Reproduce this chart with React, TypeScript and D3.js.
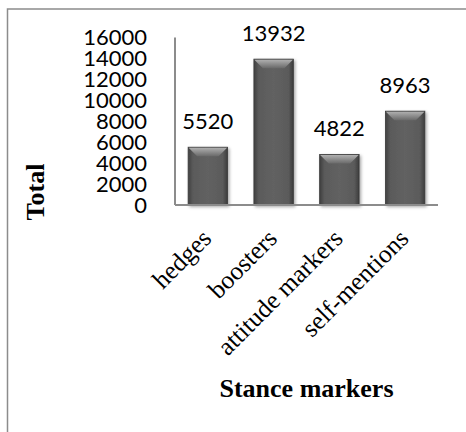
import React from "react";
import * as d3 from "d3";

const categories = ["hedges", "boosters", "attitude markers", "self-mentions"];
const totals = [5520, 13932, 4822, 8963];
const yTicks = [0, 2000, 4000, 6000, 8000, 10000, 12000, 14000, 16000];
const yTitle = "Total";
const xTitle = "Stance markers";

const W = 466;
const H = 432;
const plot = { left: 175, right: 438, top: 37.5, bottom: 205 };

export default function App() {
  const x = d3
    .scaleBand<string>()
    .domain(categories)
    .range([plot.left, plot.right])
    .paddingInner(0.4)
    .paddingOuter(0.2);
  const y = d3.scaleLinear().domain([0, 16000]).range([plot.bottom, plot.top]);
  const bw = x.bandwidth();
  const bev = 9;
  const numFont = "Lato, 'Open Sans', sans-serif";
  const serif = "'Liberation Serif', 'Times New Roman', serif";

  return (
    <svg
      width={W}
      height={H}
      style={{ position: "absolute", left: 0, top: 0, background: "#fff" }}
    >
      <defs>
        <linearGradient id="barBody" x1="0" x2="1" y1="0" y2="0">
          <stop offset="0" stopColor="#404040" />
          <stop offset="0.12" stopColor="#5a5a5a" />
          <stop offset="0.5" stopColor="#626262" />
          <stop offset="0.88" stopColor="#5a5a5a" />
          <stop offset="1" stopColor="#3c3c3c" />
        </linearGradient>
        <linearGradient id="barTop" x1="0" x2="0" y1="0" y2="1">
          <stop offset="0" stopColor="#b0b0b0" />
          <stop offset="1" stopColor="#6a6a6a" />
        </linearGradient>
        <filter id="shadow" x="-20%" y="-20%" width="140%" height="140%">
          <feDropShadow dx="1.5" dy="1.5" stdDeviation="1.5" floodColor="#000" floodOpacity="0.35" />
        </filter>
      </defs>

      {/* outer frame (extends beyond view) */}
      <rect x={7.5} y={9} width={600} height={600} fill="none" stroke="#8c8c8c" strokeWidth={1.5} />

      {/* bars */}
      {categories.map((c, i) => {
        const x0 = x(c)!;
        const yt = y(totals[i]);
        const h = plot.bottom - yt;
        return (
          <g key={c}>
            <rect x={x0} y={yt} width={bw} height={h} fill="url(#barBody)" stroke="#3a3a3a" strokeWidth={0.8} filter="url(#shadow)" />
            <polygon
              points={`${x0 + 0.5},${yt + 0.5} ${x0 + bw - 0.5},${yt + 0.5} ${x0 + bw - bev},${yt + bev} ${x0 + bev},${yt + bev}`}
              fill="url(#barTop)"
            />
            <text
              x={x0 + bw / 2}
              y={yt - 18.5}
              textAnchor="middle"
              fontFamily={numFont}
              fontSize={22}
              fill="#000"
            >
              {totals[i]}
            </text>
          </g>
        );
      })}

      {/* axes */}
      <line x1={plot.left} x2={plot.left} y1={plot.top} y2={plot.bottom} stroke="#8c8c8c" strokeWidth={2} />
      <line x1={plot.left} x2={plot.right} y1={plot.bottom} y2={plot.bottom} stroke="#8c8c8c" strokeWidth={2} />

      {/* y tick labels */}
      {yTicks.map((t) => (
        <text
          key={t}
          x={147}
          y={y(t)}
          dy="0.36em"
          textAnchor="end"
          fontFamily={numFont}
          fontSize={22}
          fill="#000"
        >
          {t}
        </text>
      ))}

      {/* x labels */}
      {categories.map((c) => {
        const cx = x(c)! + bw / 2 + 5;
        const cy = 240;
        return (
          <text
            key={c}
            transform={`translate(${cx},${cy}) rotate(-45)`}
            textAnchor="end"
            fontFamily={serif}
            fontSize={25.5}
            fill="#000"
          >
            {c}
          </text>
        );
      })}

      {/* axis titles */}
      <text
        transform={`translate(44,192) rotate(-90)`}
        textAnchor="middle"
        fontFamily={serif}
        fontWeight="bold"
        fontSize={26}
        fill="#000"
      >
        {yTitle}
      </text>
      <text
        x={(plot.left + plot.right) / 2}
        y={397}
        textAnchor="middle"
        fontFamily={serif}
        fontWeight="bold"
        fontSize={26}
        fill="#000"
      >
        {xTitle}
      </text>
    </svg>
  );
}
